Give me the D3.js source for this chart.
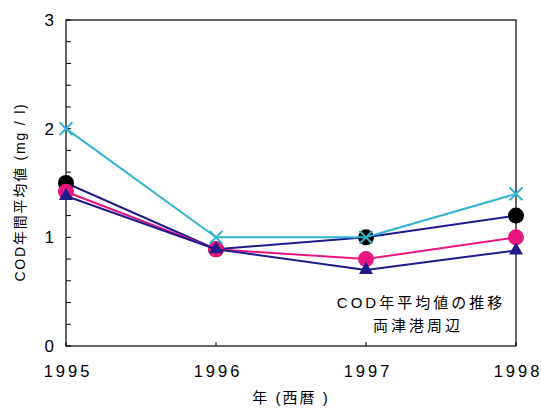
<!DOCTYPE html>
<html><head><meta charset="utf-8">
<script src="https://cdn.jsdelivr.net/npm/d3@7"></script>
<style>
body{margin:0;background:#fff;}
text{font-family:"Liberation Sans",Arial,"Noto Sans CJK JP",sans-serif;fill:#000;}
</style></head>
<body><svg id="c" width="541" height="408"></svg>
<script>
const years = [1995, 1996, 1997, 1998];
const blackSeries = [1.5, 0.89, 1.0, 1.2];
const pinkSeries = [1.42, 0.89, 0.8, 1.0];
const triSeries = [1.38, 0.89, 0.7, 0.88];
const cyanSeries = [2.0, 1.0, 1.0, 1.4];
const yTicks = [0, 1, 2, 3];
const yMinor = d3.range(0, 3.0001, 0.2);

const svg = d3.select("#c");
const L = 66, R = 516, T = 20, B = 346;
const x = d3.scaleLinear().domain([1995, 1998]).range([L, R]);
const y = d3.scaleLinear().domain([0, 3]).range([B, T]);

// frame
svg.append("rect").attr("x", L).attr("y", T).attr("width", R - L).attr("height", B - T)
  .attr("fill", "none").attr("stroke", "#000").attr("stroke-width", 1.2);

// y minor ticks inside
svg.append("g").selectAll("line").data(yMinor).join("line")
  .attr("x1", L).attr("x2", L + 5)
  .attr("y1", d => y(d)).attr("y2", d => y(d))
  .attr("stroke", "#000").attr("stroke-width", 1);
// x ticks inside
svg.append("g").selectAll("line").data(years).join("line")
  .attr("x1", d => x(d)).attr("x2", d => x(d))
  .attr("y1", B).attr("y2", B - 4)
  .attr("stroke", "#000").attr("stroke-width", 1);

// y tick labels
svg.append("g").selectAll("text").data(yTicks).join("text")
  .attr("x", L - 12).attr("y", d => y(d) + 6)
  .attr("text-anchor", "end").attr("font-size", 17)
  .text(d => d);
// x tick labels
svg.append("g").selectAll("text").data(years).join("text")
  .attr("x", d => x(d) + 2).attr("y", 377)
  .attr("text-anchor", "middle").attr("font-size", 16.5)
  .attr("letter-spacing", 3)
  .text(d => d);

// axis titles
svg.append("text").attr("x", 291).attr("y", 403).attr("text-anchor", "middle")
  .attr("font-size", 15).attr("letter-spacing", 2).text("年 (西暦 )");
svg.append("text").attr("transform", "translate(25,192) rotate(-90)")
  .attr("text-anchor", "middle").attr("font-size", 14).attr("letter-spacing", 1.8)
  .text("COD年間平均値 (mg / l)");

// annotation
svg.append("text").attr("x", 421).attr("y", 308).attr("text-anchor", "middle")
  .attr("font-size", 15).attr("letter-spacing", 3).text("COD年平均値の推移");
svg.append("text").attr("x", 418).attr("y", 331).attr("text-anchor", "middle")
  .attr("font-size", 15).attr("letter-spacing", 3).text("両津港周辺");

const line = d3.line().x((d, i) => x(years[i])).y(d => y(d));
const navy = "#1f1a8a", pink = "#e8157f", cyan = "#33b2d2";

function drawLine(data, color) {
  svg.append("path").datum(data).attr("d", line).attr("fill", "none")
    .attr("stroke", color).attr("stroke-width", 2);
}
// black circles with navy line
drawLine(blackSeries, navy);
svg.append("g").selectAll("circle").data(blackSeries).join("circle")
  .attr("cx", (d, i) => x(years[i])).attr("cy", d => y(d)).attr("r", 8).attr("fill", "#000");
// pink
drawLine(pinkSeries, pink);
svg.append("g").selectAll("circle").data(pinkSeries).join("circle")
  .attr("cx", (d, i) => x(years[i])).attr("cy", d => y(d)).attr("r", 8).attr("fill", pink);
// triangles
drawLine(triSeries, navy);
const tri = d3.symbol().type(d3.symbolTriangle).size(85);
svg.append("g").selectAll("path").data(triSeries).join("path")
  .attr("d", tri).attr("transform", (d, i) => `translate(${x(years[i])},${y(d)})`).attr("fill", navy);
// cyan with X
drawLine(cyanSeries, cyan);
const cross = d3.symbol().type(d3.symbolX).size(110);
svg.append("g").selectAll("path").data(cyanSeries).join("path")
  .attr("d", cross).attr("transform", (d, i) => `translate(${x(years[i])},${y(d)})`)
  .attr("fill", "none").attr("stroke", cyan).attr("stroke-width", 2);
</script></body></html>
